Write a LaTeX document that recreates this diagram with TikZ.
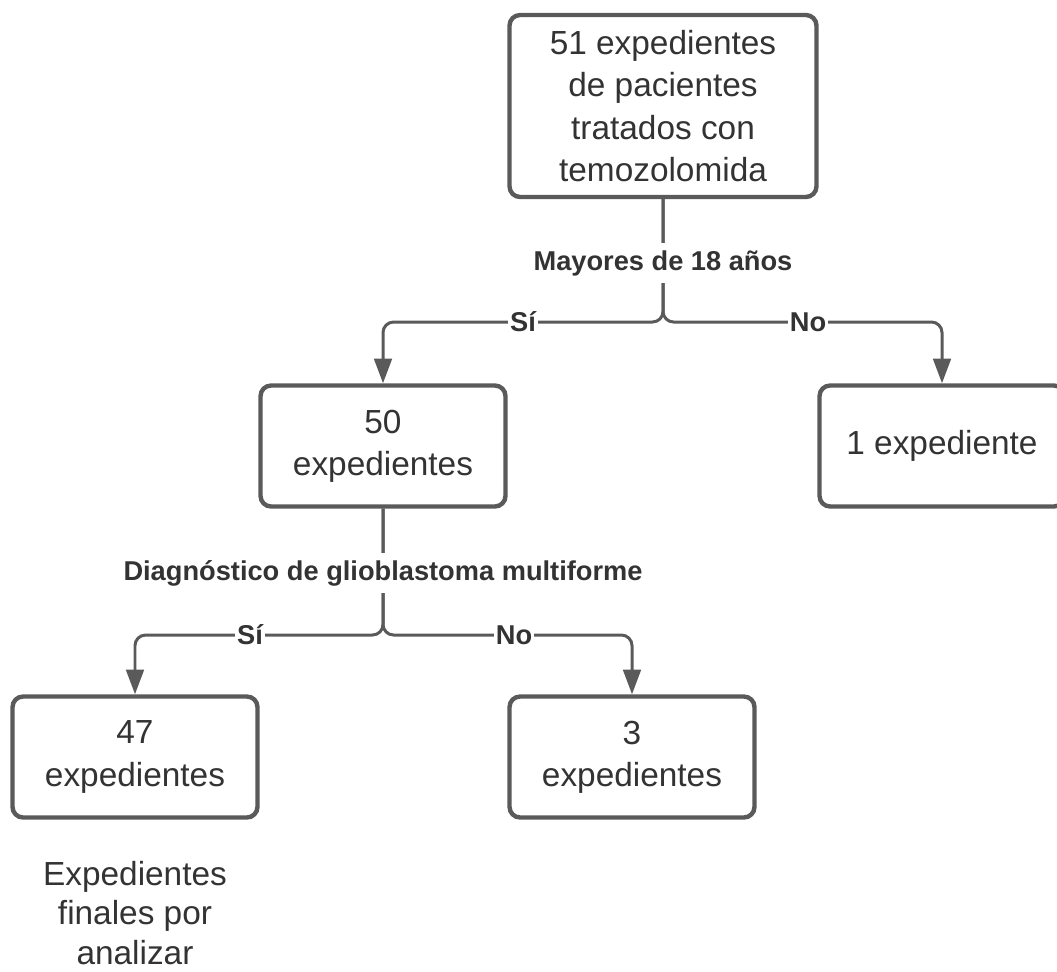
\documentclass[tikz,border=0pt]{standalone}
\usepackage{fontspec}
\setmainfont{Liberation Sans}
\usetikzlibrary{arrows.meta}
\definecolor{linegray}{HTML}{5A5A5A}
\definecolor{txtgray}{HTML}{333333}

\begin{document}
\begin{tikzpicture}[x=0.02cm,y=-0.02cm,
  box/.style={draw=linegray,line width=2.5pt,rounded corners=6pt,fill=white,
    minimum width=4.9cm,minimum height=2.42cm,align=center,text=txtgray,
    font=\fontsize{19}{24}\selectfont},
  conn/.style={draw=linegray,line width=1.7pt,rounded corners=6pt,
    -{Triangle[width=10pt,length=14pt]}},
  cond/.style={fill=white,inner sep=2pt,text=txtgray,
    font=\bfseries\fontsize{15.5}{18}\selectfont}]
\useasboundingbox (0,0) rectangle (1057,971);
\clip (0,0) rectangle (1057,971);

\node[box,minimum width=6.14cm,minimum height=3.64cm] (total) at (663,106)
  {51 expedientes\\de pacientes\\tratados con\\temozolomida};
\node[box] (adultos) at (383,446) {50\\expedientes};
\node[box] (menor) at (942,446) {1 expediente};
\node[box] (gbm) at (135,757) {47\\expedientes};
\node[box] (otros) at (632,757) {3\\expedientes};
\node[align=center,text=txtgray,font=\fontsize{19}{22.5}\selectfont] (finales)
  at (135,913) {Expedientes\\finales por\\analizar};

\coordinate (j1) at (663,322);
\coordinate (j2) at (383,635);
\draw[conn] (total.south) -- (j1) -| (adultos.north);
\draw[conn] (total.south) -- (j1) -| (menor.north);
\draw[conn] (adultos.south) -- (j2) -| (gbm.north);
\draw[conn] (adultos.south) -- (j2) -| (otros.north);

% condiciones
\node[cond,inner ysep=4pt] (edad) at (663,263) {Mayores de 18 años};
\node[cond,inner sep=1pt] (edadsi) at (523,322) {Sí};
\node[cond,inner sep=1pt] (edadno) at (808,322) {No};
\node[cond,inner ysep=4pt] (diag) at (383,573) {Diagnóstico de glioblastoma multiforme};
\node[cond,inner sep=1pt] (diagsi) at (250,635) {Sí};
\node[cond,inner sep=1pt] (diagno) at (514,635) {No};
\end{tikzpicture}
\end{document}
